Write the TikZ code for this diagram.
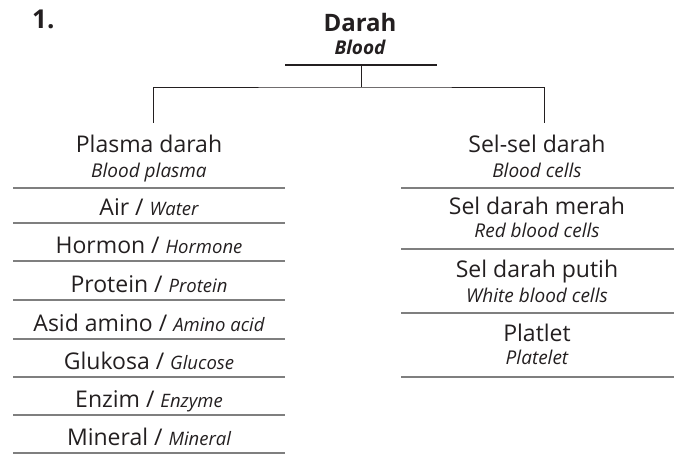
\documentclass[tikz,border=0pt]{standalone}
\usepackage{fontspec}
\setmainfont{Open Sans}
\definecolor{ink}{HTML}{231F20}
\definecolor{rulegray}{HTML}{7F7F7F}
\newcommand\enit[1]{{\fontsize{18.5}{21}\selectfont\itshape #1}}
\begin{document}
\begin{tikzpicture}[x=1pt,y=-1pt,
  txt/.style={anchor=base, inner sep=0pt, text=ink, font=\fontsize{23}{26}\selectfont},
  sub/.style={anchor=base, inner sep=0pt, text=ink, font=\fontsize{19}{22}\selectfont\itshape},
  sepline/.style={draw=rulegray, line width=1.8pt},
  conn/.style={draw=ink, line width=0.9pt}]
\useasboundingbox (0,0) rectangle (674,454);
% heading
\node[anchor=base west, inner sep=0pt, text=ink, font=\fontsize{26}{30}\selectfont\bfseries] (num) at (32,29) {1.};
\node[anchor=base, inner sep=0pt, text=ink, font=\fontsize{24}{28}\selectfont\bfseries] (darah) at (360,32) {Darah};
\node[anchor=base, inner sep=0pt, text=ink, font=\fontsize{19}{22}\selectfont\bfseries\itshape] (blood) at (360,55) {Blood};
\draw[draw=ink, line width=2pt] (285,65) -- (437,65);
\coordinate (bar) at (361,65);
\coordinate (junc) at (361,87);
\coordinate (lt) at (153,123);
\coordinate (rt) at (544,123);
\draw[conn] (bar) -- (junc);
\draw[conn] (lt) |- (junc) -| (rt);
% left column
\node[txt] (plasma) at (149,153) {Plasma darah};
\node[sub] (plasmaen) at (149,178) {Blood plasma};
\draw[sepline] (13,188) -- (285,188);
\node[txt] (air) at (149,216) {Air / \enit{Water}};
\draw[sepline] (13,223) -- (285,223);
\node[txt] (hormon) at (149,254) {Hormon / \enit{Hormone}};
\draw[sepline] (13,261) -- (285,261);
\node[txt] (protein) at (149,292) {Protein / \enit{Protein}};
\draw[sepline] (13,300) -- (285,300);
\node[txt] (asid) at (149,331) {Asid amino / \enit{Amino acid}};
\draw[sepline] (13,339) -- (285,339);
\node[txt] (glukosa) at (149,369) {Glukosa / \enit{Glucose}};
\draw[sepline] (13,377) -- (285,377);
\node[txt] (enzim) at (149,407) {Enzim / \enit{Enzyme}};
\draw[sepline] (13,415) -- (285,415);
\node[txt] (mineral) at (149,445) {Mineral / \enit{Mineral}};
\draw[sepline] (13,453) -- (285,453);
% right column
\node[txt] (sel) at (537,153) {Sel-sel darah};
\node[sub] (selen) at (537,178) {Blood cells};
\draw[sepline] (401,188) -- (674,188);
\node[txt] (merah) at (537,215) {Sel darah merah};
\node[sub] (merahen) at (537,238) {Red blood cells};
\draw[sepline] (401,249) -- (674,249);
\node[txt] (putih) at (537,277) {Sel darah putih};
\node[sub] (putihen) at (537,302) {White blood cells};
\draw[sepline] (401,313) -- (674,313);
\node[txt] (platlet) at (537,341) {Platlet};
\node[sub] (platleten) at (537,364) {Platelet};
\draw[sepline] (401,377) -- (674,377);
\end{tikzpicture}
\end{document}
